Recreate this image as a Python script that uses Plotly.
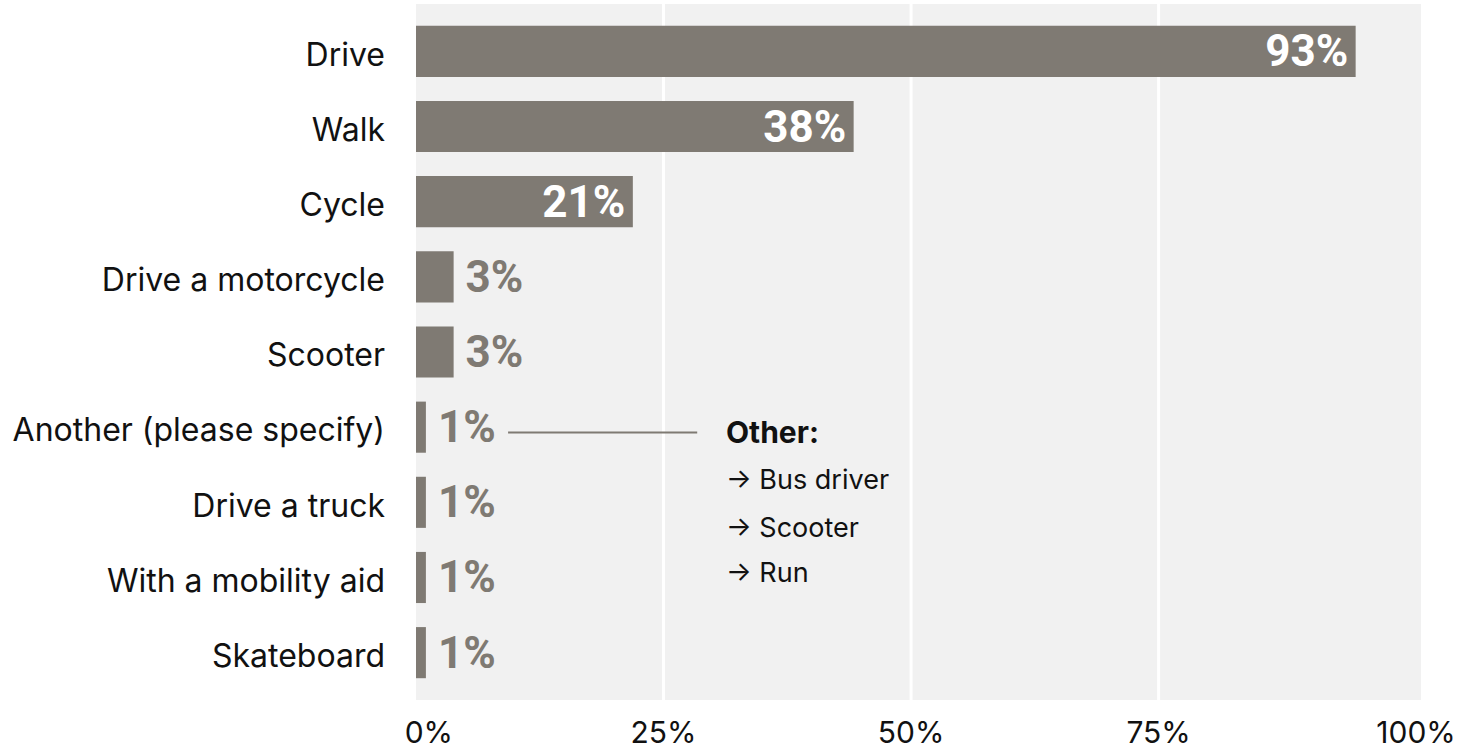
import plotly.graph_objects as go

categories = ["Drive", "Walk", "Cycle", "Drive a motorcycle", "Scooter",
              "Another (please specify)", "Drive a truck", "With a mobility aid", "Skateboard"]
bar_values = [94.9, 44.2, 21.9, 3.8, 3.8, 1.0, 1.0, 1.0, 1.0]
value_labels = ["93%", "38%", "21%", "3%", "3%", "1%", "1%", "1%", "1%"]
label_positions = ["inside", "inside", "inside", "outside", "outside",
                   "outside", "outside", "outside", "outside"]
tick_values = [1.3, 25, 50, 75, 101]
tick_labels = ["0%", "25%", "50%", "75%", "100%"]
grid_values = [25, 50, 75]
other_title = "Other:"
other_items = ["→ Bus driver", "→ Scooter", "→ Run"]
other_item_offsets = [0.70, 1.33, 1.93]

BAR = "#7f7a73"
BG = "#f1f1f1"
NUM_FONT = "Roboto, sans-serif"
TXT_FONT = "Inter, Noto Sans, sans-serif"
HAIR = "\u200a"
THIN = "\u2009"

templates = [("%{text}" + HAIR) if p == "inside" else (THIN + "%{text}")
             for p in label_positions]

fig = go.Figure()
fig.add_trace(go.Bar(
    y=categories, x=bar_values, orientation="h",
    marker=dict(color=BAR, line=dict(width=0)),
    text=value_labels, texttemplate=templates, textposition=label_positions,
    insidetextanchor="end",
    insidetextfont=dict(family=NUM_FONT, size=44, color="white", weight="bold"),
    outsidetextfont=dict(family=NUM_FONT, size=44, color=BAR, weight="bold"),
    constraintext="none", cliponaxis=False,
    hoverinfo="skip",
))

shapes = []
for g in grid_values:
    shapes.append(dict(type="line", xref="x", yref="paper", x0=g, x1=g, y0=0, y1=1,
                       line=dict(color="white", width=3), layer="below"))
other_idx = categories.index("Another (please specify)")
shapes.append(dict(type="line", xref="x", yref="y", x0=9.3, x1=28.4,
                   y0=other_idx + 0.07, y1=other_idx + 0.07,
                   line=dict(color=BAR, width=2)))

annotations = [dict(x=31.1, y=other_idx + 0.07, xref="x", yref="y",
                    text="<b>" + other_title + "</b>",
                    showarrow=False, xanchor="left", yanchor="middle",
                    font=dict(family=TXT_FONT, size=30, color="#111111"))]
for item, off in zip(other_items, other_item_offsets):
    annotations.append(dict(x=31.1, y=other_idx + off, xref="x", yref="y", text=item,
                            showarrow=False, xanchor="left", yanchor="middle",
                            font=dict(family=TXT_FONT, size=27, color="#111111")))

fig.update_layout(
    width=1459, height=751,
    margin=dict(l=416, r=38, t=4, b=51),
    paper_bgcolor="white", plot_bgcolor=BG,
    bargap=0.32, showlegend=False,
    shapes=shapes, annotations=annotations,
    font=dict(family=TXT_FONT, color="#111111"),
)
fig.update_xaxes(range=[0, 101.5], tickvals=tick_values, ticktext=tick_labels,
                 showgrid=False, zeroline=False, showline=False, ticks="", ticklen=0,
                 tickfont=dict(family=TXT_FONT, size=30, color="#111111"),
                 ticklabelstandoff=12, automargin=False, fixedrange=True)
fig.update_yaxes(type="category", categoryorder="array", categoryarray=categories,
                 autorange=False, range=[8.63, -0.63],
                 showgrid=False, zeroline=False, showline=False, ticks="", ticklen=0,
                 tickfont=dict(family=TXT_FONT, size=32, color="#111111"),
                 ticklabelstandoff=30, ticklabelshift=-3, automargin=False,
                 fixedrange=True)

fig.write_html("out.html")
